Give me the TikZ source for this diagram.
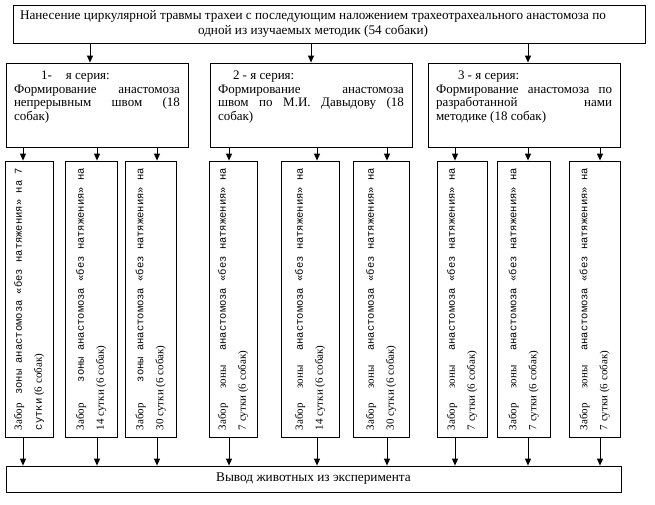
\documentclass[tikz,border=0pt]{standalone}
\usepackage{fontspec}
\setmainfont{Liberation Serif}
\setmonofont{Liberation Mono}
\usetikzlibrary{arrows.meta,calc}
\newcommand{\mtx}[1]{{\fontsize{10.5}{20}\ttfamily #1}}

\begin{document}
\begin{tikzpicture}[x=1pt,y=-1pt,
  box/.style={draw,line width=0.8pt,inner sep=0pt},
  serbox/.style={box,minimum height=84pt,font=\fontsize{13}{13.5}\selectfont},
  colbox/.style={box,rotate=90,minimum width=276pt,text width=262pt,
    align=justify,inner xsep=7pt,font=\fontsize{11}{20}\selectfont},
  arr/.style={-{Triangle[length=7pt,width=6pt]},line width=0.9pt}]
\useasboundingbox (0,0) rectangle (655,505);

% upper part
\node[box,minimum width=632pt,minimum height=38pt,font=\fontsize{13.2}{14.5}\selectfont]
  (top) at (329,24) {\parbox{596pt}{\centering Нанесение циркулярной травмы трахеи с последующим наложением трахеотрахеального анастомоза по\\ одной из изучаемых методик (54 собаки)}\rule{32pt}{0pt}};

\node[serbox,minimum width=182pt] (ser1) at (97,105)
  {\parbox[c][68pt][t]{166pt}{\hspace*{27pt}1-\hspace{14pt}я серия:\\ Формирование анастомоза\linebreak непрерывным швом (18\linebreak собак)}};
\node[serbox,minimum width=202pt] (ser2) at (311,105)
  {\parbox[c][68pt][t]{186pt}{\hspace*{15pt}2 - я серия:\\ Формирование анастомоза\linebreak швом по М.И. Давыдову (18\linebreak собак)}};
\node[serbox,minimum width=192pt] (ser3) at (524,105)
  {\parbox[c][68pt][t]{176pt}{\hspace*{22pt}3 - я серия:\\ Формирование анастомоза по\linebreak разработанной нами\linebreak методике (18 собак)}};

% columns
\node[colbox,minimum height=48pt] (v1) at (29,299) {Забор \mtx{зоны анастомоза «без натяжения» на 7}\linebreak \mtx{сутки} (6 собак)};
\node[colbox,minimum height=52pt] (v2) at (91,299) {Забор \mtx{зоны анастомоза «без натяжения» на}\linebreak 14 сутки (6 собак)};
\node[colbox,minimum height=51pt] (v3) at (150.5,299) {Забор \mtx{зоны анастомоза «без натяжения» на}\linebreak 30 сутки (6 собак)};
\node[colbox,minimum height=48pt] (v4) at (233,299) {Забор зоны \mtx{анастомоза «без натяжения» на}\linebreak 7 сутки (6 собак)};
\node[colbox,minimum height=58pt] (v5) at (310,299) {Забор зоны \mtx{анастомоза «без натяжения» на}\linebreak 14 сутки (6 собак)};
\node[colbox,minimum height=56pt] (v6) at (381,299) {Забор зоны \mtx{анастомоза «без натяжения» на}\linebreak 30 сутки (6 собак)};
\node[colbox,minimum height=50pt] (v7) at (462,299) {Забор зоны \mtx{анастомоза «без натяжения» на}\linebreak 7 сутки (6 собак)};
\node[colbox,minimum height=53pt] (v8) at (523.5,299) {Забор зоны \mtx{анастомоза «без натяжения» на}\linebreak 7 сутки (6 собак)};
\node[colbox,minimum height=51pt] (v9) at (594.5,299) {Забор зоны \mtx{анастомоза «без натяжения» на}\linebreak 7 сутки (6 собак)};

\node[box,minimum width=615pt,minimum height=26pt,font=\fontsize{13.3}{14}\selectfont]
  (out) at (313.5,479) {Вывод животных из эксперимента};

% arrow columns
\coordinate (k1) at (23,0);  \coordinate (k2) at (97,0);  \coordinate (k3) at (157,0);
\coordinate (k4) at (229,0); \coordinate (k5) at (317,0); \coordinate (k6) at (387,0);
\coordinate (k7) at (455,0); \coordinate (k8) at (528,0); \coordinate (k9) at (600,0);

\draw[arr] (top.south -| k1) ++(67,0) -- ([xshift=-7pt]ser1.north);
\draw[arr] (top.south -| ser2.north) -- (ser2.north);
\draw[arr] (top.south -| k8) -- (ser3.north -| k8);

\draw[arr] (ser1.south -| k1) -- (v1.east -| k1);
\draw[arr] (ser1.south -| k2) -- (v2.east -| k2);
\draw[arr] (ser1.south -| k3) -- (v3.east -| k3);
\draw[arr] (ser2.south -| k4) -- (v4.east -| k4);
\draw[arr] (ser2.south -| k5) -- (v5.east -| k5);
\draw[arr] (ser2.south -| k6) -- (v6.east -| k6);
\draw[arr] (ser3.south -| k7) -- (v7.east -| k7);
\draw[arr] (ser3.south -| k8) -- (v8.east -| k8);
\draw[arr] (ser3.south -| k9) -- (v9.east -| k9);

\draw[arr] (v1.west -| k1) -- (out.north -| k1);
\draw[arr] (v2.west -| k2) -- (out.north -| k2);
\draw[arr] (v3.west -| k3) -- (out.north -| k3);
\draw[arr] (v4.west -| k4) -- (out.north -| k4);
\draw[arr] (v5.west -| k5) -- (out.north -| k5);
\draw[arr] (v6.west -| k6) -- (out.north -| k6);
\draw[arr] (v7.west -| k7) -- (out.north -| k7);
\draw[arr] (v8.west -| k8) -- (out.north -| k8);
\draw[arr] (v9.west -| k9) -- (out.north -| k9);

\end{tikzpicture}
\end{document}
